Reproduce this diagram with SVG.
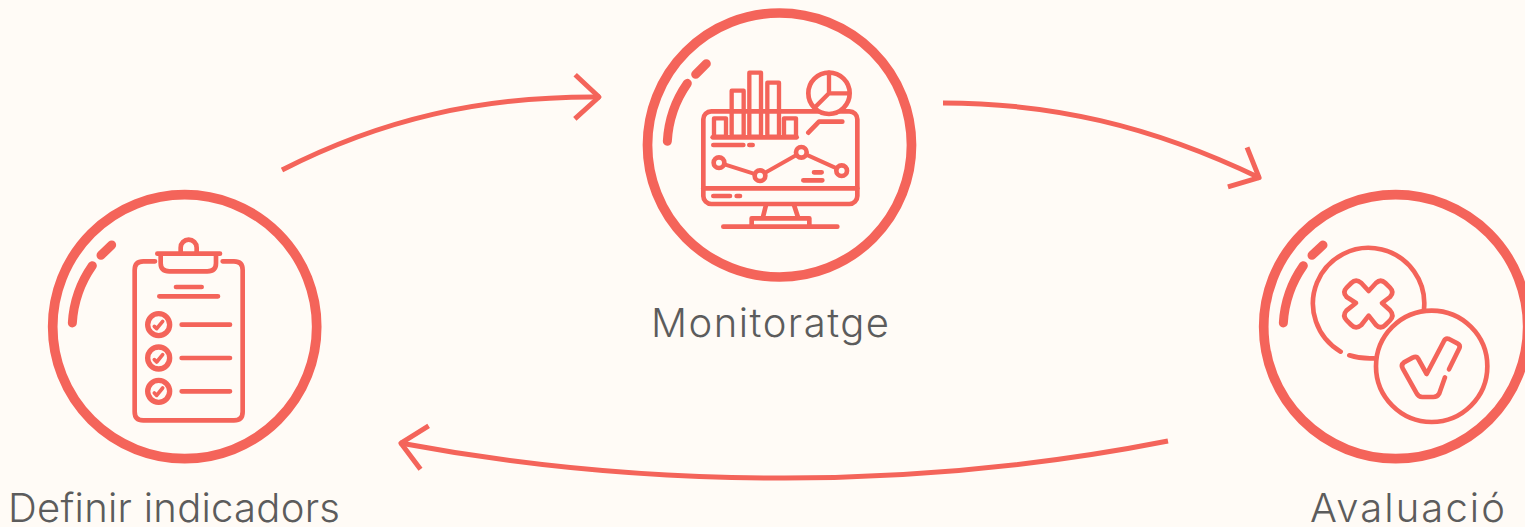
<svg xmlns="http://www.w3.org/2000/svg" width="1525" height="527" viewBox="0 0 1525 527">
<style>
.ring{fill:none;stroke:#F4645A;stroke-width:9.7}
.shine{fill:none;stroke:#F4645A;stroke-width:27;stroke-linecap:round}
.ic{fill:none;stroke:#F4645A;stroke-width:14;stroke-linecap:round;stroke-linejoin:round}
.thin{stroke-width:13}
.lbl{font-family:"Inter","Liberation Sans",sans-serif;font-weight:300;font-size:40px;fill:#5c5c5c}
.conn{fill:none;stroke:#F4645A;stroke-width:5}
</style>
<defs>
<marker id="head" markerUnits="userSpaceOnUse" viewBox="-32 -28 38 56" markerWidth="38" markerHeight="56" refX="0" refY="0" orient="auto" overflow="visible">
<path d="M-25,-22 L-1,0 L-25,22" fill="none" stroke="#F4645A" stroke-width="5" stroke-linejoin="round"/>
</marker>
</defs>
<rect width="1525" height="527" fill="#FFFBF6"/>
<g id="connectors">
<path class="conn" marker-end="url(#head)" d="M282,170 C380,120 480,96 600,97"/>
<path class="conn" marker-end="url(#head)" d="M943,103 C1050,103 1150,125 1260,178"/>
<path class="conn" marker-end="url(#head)" d="M1168,441 C920,490 650,490 400,443"/>
</g>
<g id="node-definir">
<circle class="ring" cx="184.7" cy="326.7" r="132"/>
<g transform="translate(40 185) scale(.33333)">
<path class="shine" d="M97,414 A335,335 0 0 1 157,242 M183,211 L215,180"/>
<path class="ic" d="M345,229 H310 Q284,229 284,255 V680 Q284,706 310,706 H582 Q608,706 608,680 V255 Q608,229 582,229 H548"/>
<path class="ic" d="M352,206 H540 M362,206 V235 Q362,259 388,259 H502 Q528,259 528,235 V206 M422,206 V188 A24,24 0 0 1 470,188 V206"/>
<path class="ic" d="M408,306 H485 M358,334 H534 M425,419 H570 M425,519 H570 M425,619 H570"/>
<circle class="ic" style="stroke-width:16" cx="356" cy="419" r="33"/>
<circle class="ic" style="stroke-width:16" cx="356" cy="519" r="33"/>
<circle class="ic" style="stroke-width:16" cx="356" cy="619" r="33"/>
<path class="ic" style="stroke-width:11" d="M343,424 L350,431 L368,409 M343,524 L350,531 L368,509 M343,624 L350,631 L368,609"/>
</g>
<text class="lbl" x="8" y="522" textLength="332" lengthAdjust="spacing">Definir indicadors</text>
</g>
<g id="node-monitoratge">
<circle class="ring" cx="779.5" cy="145" r="132"/>
<g transform="translate(640 0) scale(.33333)">
<path class="shine" d="M82,424 A335,335 0 0 1 142,250 M167,223 L199,191"/>
<rect class="ic" x="190" y="334" width="462" height="278" rx="24"/>
<path class="ic" d="M190,565 H652"/>
<rect class="ic thin" x="222" y="355" width="36" height="55"/>
<rect class="ic thin" x="275" y="272" width="36" height="138"/>
<rect class="ic thin" x="328" y="218" width="35" height="192"/>
<rect class="ic thin" x="382" y="248" width="35" height="162"/>
<rect class="ic thin" x="432" y="355" width="36" height="55"/>
<path class="ic" d="M218,412 H470"/>
<circle cx="567" cy="280" r="62" fill="#FFFBF6" stroke="#F4645A" stroke-width="14"/>
<path class="ic thin" d="M567,218 V280 H625 M567,280 L525,322"/>
<path class="ic" d="M505,398 L537,365 H607 M220,435 H310 M328,435 H338 M522,517 H545 M490,541 H547 M220,588 H270 M290,588 H300"/>
<path class="ic" d="M237,488 L360,527 L484,457 L605,512" style="stroke-width:12"/>
<g fill="#FFFBF6" stroke="#F4645A" stroke-width="14">
<circle cx="237" cy="488" r="16"/><circle cx="360" cy="527" r="16"/><circle cx="484" cy="457" r="16"/><circle cx="605" cy="512" r="16"/>
</g>
<path class="ic" d="M378,615 L368,655 M462,615 L475,655 M335,675 V655 H508 V675 M250,680 H592"/>
</g>
<text class="lbl" x="651" y="337" textLength="238" lengthAdjust="spacing">Monitoratge</text>
</g>
<g id="node-avaluacio">
<circle class="ring" cx="1395.7" cy="326.7" r="132"/>
<g transform="translate(1250 185) scale(.33333)">
<path class="shine" d="M100,414 A335,335 0 0 1 160,242 M186,211 L219,180"/>
<path class="ic" d="M522,372 A167,167 0 1 0 272,500 M298,511 Q332,522 372,520"/>
<circle class="ic" cx="545" cy="544" r="167"/>
<path class="ic" d="M356,318 L378,294 Q392,280 406,294 L420,308 Q434,322 420,336 L396,354 L420,376 Q434,392 420,406 L406,420 Q392,434 378,420 L356,392 L334,420 Q318,434 304,420 L290,406 Q276,392 290,376 L318,354 L290,336 Q276,322 290,308 L304,294 Q318,280 334,294 Z"/>
<path class="ic" d="M597,553 L628,490 Q632,480 622,475 L597,462 Q587,458 582,468 L530,567 L505,522 Q500,512 488,518 L462,532 Q452,540 458,550 L500,625 Q505,636 517,636 L550,636 Q562,636 568,625 L585,577"/>
</g>
<text class="lbl" x="1310" y="522" textLength="195" lengthAdjust="spacing">Avaluació</text>
</g>
</svg>
